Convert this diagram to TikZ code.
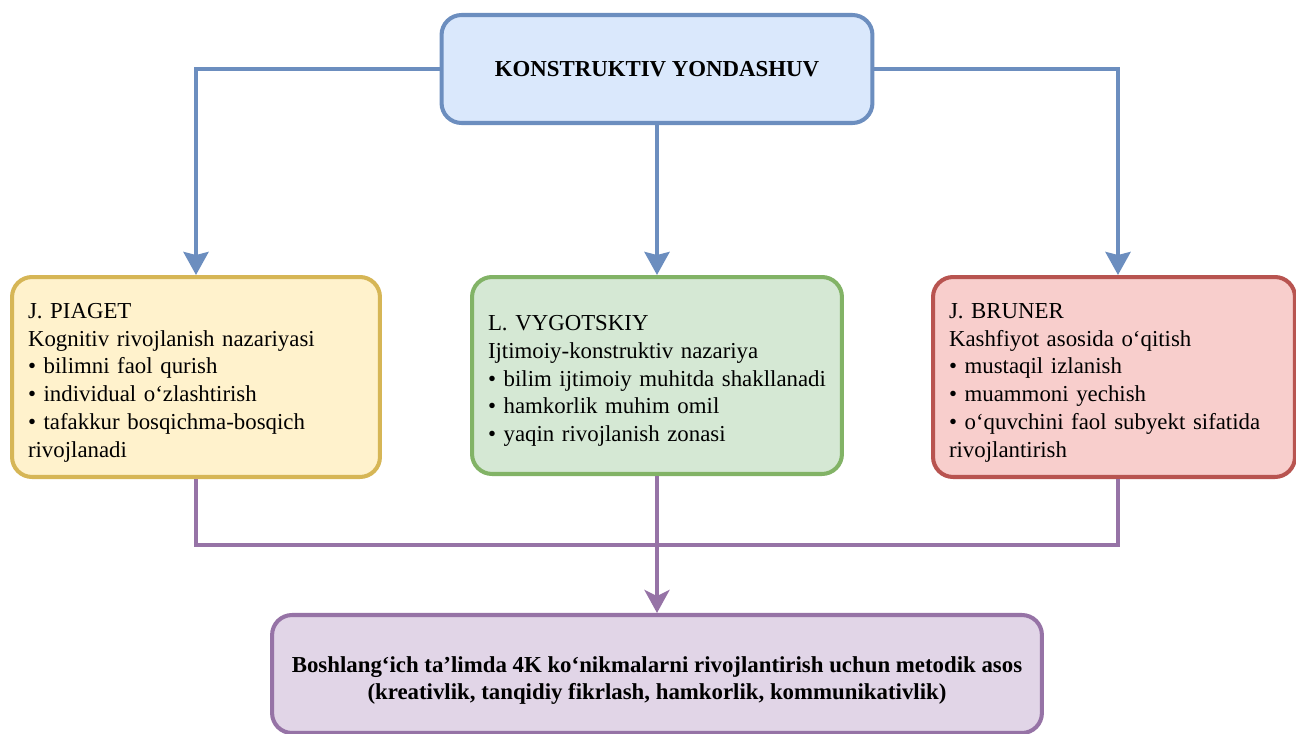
\documentclass[tikz,border=0pt]{standalone}
\usepackage{fontspec}
\setmainfont{Liberation Serif}
\usetikzlibrary{arrows.meta}

\definecolor{topfill}{HTML}{DAE8FC}
\definecolor{topline}{HTML}{6C8EBF}
\definecolor{piagetfill}{HTML}{FFF2CC}
\definecolor{piagetline}{HTML}{D6B656}
\definecolor{vygfill}{HTML}{D5E8D4}
\definecolor{vygline}{HTML}{82B366}
\definecolor{brunerfill}{HTML}{F8CECC}
\definecolor{brunerline}{HTML}{B85450}
\definecolor{basisfill}{HTML}{E1D5E7}
\definecolor{basisline}{HTML}{9673A6}

\newcommand{\topstrut}[1]{\rule{0pt}{#1}}

\begin{document}
\begin{tikzpicture}[x=0.02cm, y=-0.02cm,
    every node/.style={rectangle, rounded corners=0.4cm, line width=2.3pt, inner xsep=0.32cm, font=\fontsize{13}{15.8}\selectfont},
    theory/.style={align=left, minimum height=4cm},
    blueline/.style={draw=topline, line width=2.3pt, -{Stealth[width=0.5cm,length=0.46cm,inset=0.06cm]}},
    purpleline/.style={draw=basisline, line width=2.3pt},
    purplearrow/.style={purpleline, -{Stealth[width=0.5cm,length=0.46cm,inset=0.12cm]}}]
    \useasboundingbox (0,0) rectangle (1296,734);

    % Nodes
    \node (top) [draw=topline, fill=topfill, minimum width=8.62cm, minimum height=2.16cm, font=\fontsize{13}{15.8}\selectfont\bfseries] at (657,69) {KONSTRUKTIV YONDASHUV};
    \node (piaget) [theory, draw=piagetline, fill=piagetfill, text width=6.72cm] at (196,377)
        {\topstrut{15pt}J. PIAGET\\Kognitiv rivojlanish nazariyasi\\• bilimni faol qurish\\• individual o‘zlashtirish\\• tafakkur bosqichma-bosqich\\rivojlanadi};
    \node (vygotskiy) [theory, draw=vygline, fill=vygfill, text width=6.76cm, minimum height=3.94cm] at (657,375.5)
        {\topstrut{15pt}L. VYGOTSKIY\\Ijtimoiy-konstruktiv nazariya\\• bilim ijtimoiy muhitda shakllanadi\\• hamkorlik muhim omil\\• yaqin rivojlanish zonasi};
    \node (bruner) [theory, draw=brunerline, fill=brunerfill, text width=6.6cm] at (1114,377)
        {\topstrut{15pt}J. BRUNER\\Kashfiyot asosida o‘qitish\\• mustaqil izlanish\\• muammoni yechish\\• o‘quvchini faol subyekt sifatida\\rivojlantirish};
    \node (basis) [draw=basisline, fill=basisfill, align=center, minimum width=15.4cm, minimum height=2.36cm, font=\fontsize{13}{15.8}\selectfont\bfseries] at (657,674)
        {\topstrut{16.5pt}Boshlang‘ich ta’limda 4K ko‘nikmalarni rivojlantirish uchun metodik asos\\(kreativlik, tanqidiy fikrlash, hamkorlik, kommunikativlik)};
    \coordinate (bus) at (657,545);

    % Arrows
    \draw[blueline] (top.west) -| (piaget.north);
    \draw[blueline] (top.south) -- (vygotskiy.north);
    \draw[blueline] (top.east) -| ([xshift=0.08cm]bruner.north);
    \draw[purpleline] (piaget.south) |- (bus) -| ([xshift=0.08cm]bruner.south);
    \draw[purplearrow] (vygotskiy.south) -- (basis.north);
\end{tikzpicture}
\end{document}
